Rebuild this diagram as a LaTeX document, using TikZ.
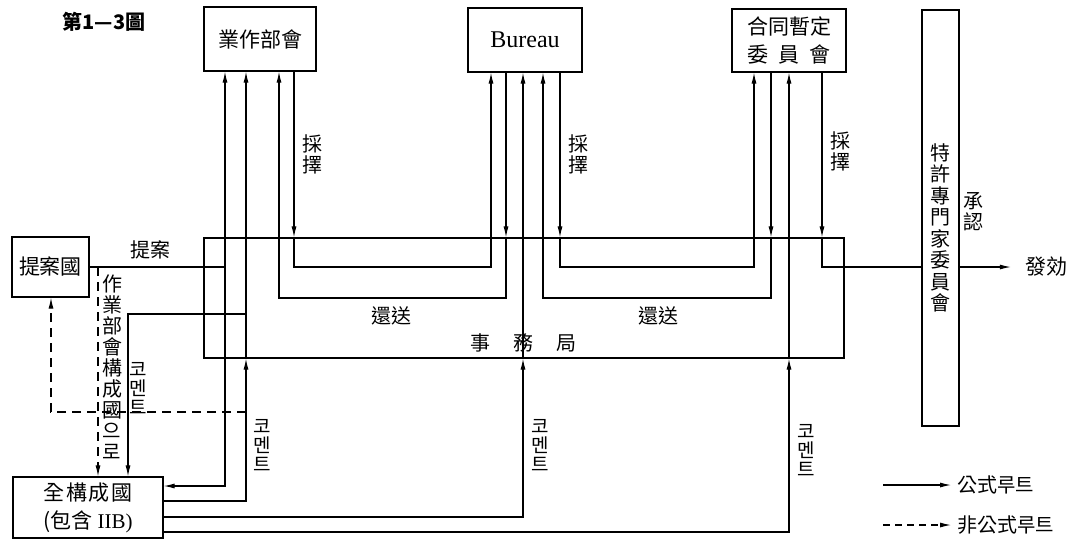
\documentclass[tikz,border=0pt]{standalone}
\usepackage{fontspec}
\setmainfont{Liberation Serif}
\newfontfamily\cjk{Noto Sans CJK TC}
\usetikzlibrary{arrows.meta}
\begin{document}
\begin{tikzpicture}[x=1pt,y=-1pt,
  box/.style={draw, line width=1.2pt, inner sep=0pt, align=center},
  ln/.style={line width=1.1pt},
  arr/.style={line width=1.1pt, -{Latex[length=11pt,width=5pt]}},
  dsh/.style={line width=1.1pt, dash pattern=on 9pt off 6pt, -{Latex[length=11pt,width=5pt]}},
  lbl/.style={inner sep=0pt, align=center, font=\cjk\fontsize{20}{21}\selectfont},
  kr/.style={inner sep=0pt, align=center, font=\cjk\fontsize{19}{19}\selectfont}]
\fill[white] (0,0) rectangle (1081,542);
\useasboundingbox (0,0) rectangle (1081,542);

% title
\node[inner sep=0pt, font=\cjk\bfseries\fontsize{20}{22}\selectfont] (title) at (104,22) {第1—3圖};

% boxes
\node[box, minimum width=112pt, minimum height=64pt, font=\cjk\fontsize{21}{23}\selectfont] (wp) at (260,39) {業作部會};
\node[box, minimum width=114pt, minimum height=64pt, font=\fontsize{24}{26}\selectfont] (bu) at (525,40) {Bureau};
\node[box, minimum width=114pt, minimum height=63pt, font=\cjk\fontsize{21}{28}\selectfont] (jc) at (789,40.5) {合同暫定\\委\hspace{10pt}員\hspace{10pt}會};
\node[box, minimum width=37pt, minimum height=416pt] (pe) at (940.5,218) {};
\node[lbl, font=\cjk\fontsize{20}{21.5}\selectfont] (petxt) at (940.5,228) {特\\許\\專\\門\\家\\委\\員\\會};
\node[box, minimum width=77pt, minimum height=60pt, font=\cjk\fontsize{21}{23}\selectfont] (pr) at (50.5,267) {提案國};
\node[box, minimum width=150pt, minimum height=61pt, font=\fontsize{21}{28}\selectfont] (all) at (88,507.5) {{\cjk 全\hspace{1.5pt}構\hspace{1.5pt}成\hspace{1.5pt}國}\\{\cjk (包含}\ IIB)};
\node[box, minimum width=640pt, minimum height=120pt] (sec) at (524,298) {};
\node[inner sep=0pt, font=\cjk\fontsize{20}{22}\selectfont] (sectxt) at (523,343) {事\hspace{23pt}務\hspace{23pt}局};

% x positions and levels
\coordinate (xa) at (225,0);
\coordinate (xb) at (246,0);
\coordinate (xc) at (279,0);
\coordinate (xd) at (294,0);
\coordinate (xe) at (491,0);
\coordinate (xf) at (506,0);
\coordinate (xg) at (523,0);
\coordinate (xh) at (543,0);
\coordinate (xi) at (560,0);
\coordinate (xj) at (754,0);
\coordinate (xk) at (771,0);
\coordinate (xl) at (789,0);
\coordinate (xm) at (822,0);
\coordinate (x51) at (51,0);
\coordinate (x98) at (98,0);
\coordinate (x128) at (128,0);
\coordinate (yad) at (0,267);
\coordinate (yret) at (0,298);
\coordinate (y314) at (0,314);
\coordinate (y412) at (0,412);
\coordinate (y486) at (0,486);
\coordinate (y501) at (0,501);
\coordinate (y517) at (0,517);
\coordinate (y532) at (0,532);

% proposal
\draw[ln] (pr.east) -- (xa |- pr.east);
\draw[arr] (xa |- pr.east) -- (wp.south -| xa);
\draw[arr] (xa |- pr.east) -- (xa |- y486) -- (all.east |- y486);
\draw[dsh] (x98 |- pr.east) -- (all.north -| x98);

% adoption WP -> Bureau
\draw[arr] (wp.south -| xd) -- (xd |- sec.north);
\draw[arr] (xd |- sec.north) -- (xd |- yad) -- (xe |- yad) -- (bu.south -| xe);
% return Bureau -> WP
\draw[arr] (bu.south -| xf) -- (xf |- sec.north);
\draw[arr] (xf |- sec.north) -- (xf |- yret) -- (xc |- yret) -- (wp.south -| xc);
% adoption Bureau -> JC
\draw[arr] (bu.south -| xi) -- (xi |- sec.north);
\draw[arr] (xi |- sec.north) -- (xi |- yad) -- (xj |- yad) -- (jc.south -| xj);
% return JC -> Bureau
\draw[arr] (jc.south -| xk) -- (xk |- sec.north);
\draw[arr] (xk |- sec.north) -- (xk |- yret) -- (xh |- yret) -- (bu.south -| xh);
% adoption JC -> PE
\draw[arr] (jc.south -| xm) -- (xm |- sec.north);
\draw[ln] (xm |- sec.north) -- (xm |- yad) -- (pe.west |- yad);
\node[inner sep=0pt, font=\cjk\fontsize{21}{23}\selectfont] (fx) at (1046,267) {發効};
\draw[arr, shorten >=14pt] (pe.east |- yad) -- (fx.west);

% comments from all members
\draw[arr] (all.east |- y501) -- (xb |- y501) -- (xb |- sec.south);
\draw[arr] (xb |- sec.south) -- (wp.south -| xb);
\draw[arr] (xb |- y314) -- (x128 |- y314) -- (all.north -| x128);
\draw[dsh] (xb |- y412) -- (x51 |- y412) -- (pr.south -| x51);
\draw[arr] (all.east |- y517) -- (xg |- y517) -- (xg |- sec.south);
\draw[arr] (xg |- sec.south) -- (bu.south -| xg);
\draw[arr] (all.east |- y532) -- (xl |- y532) -- (xl |- sec.south);
\draw[arr] (xl |- sec.south) -- (jc.south -| xl);

% labels
\node[lbl] (ad1) at (312,154) {採\\擇};
\node[lbl] (ad2) at (578,154) {採\\擇};
\node[lbl] (ad3) at (840,151) {採\\擇};
\node[lbl] (rt1) at (391,316) {還送};
\node[lbl] (rt2) at (658,316) {還送};
\node[lbl] (prl) at (150,250) {提案};
\node[lbl] (wpm) at (112,367) {作\\業\\部\\會\\構\\成\\國\\으\\로};
\node[kr] (cm0) at (138,388) {코\\멘\\트};
\node[kr] (cm1) at (262,445) {코\\멘\\트};
\node[kr] (cm2) at (540,445) {코\\멘\\트};
\node[kr] (cm3) at (806,450) {코\\멘\\트};
\node[lbl] (ap) at (973,212) {承\\認};

% legend
\node[inner sep=0pt, anchor=west, font=\cjk\fontsize{20}{22}\selectfont] (leg1) at (957,485) {公式루트};
\node[inner sep=0pt, anchor=west, font=\cjk\fontsize{20}{22}\selectfont] (leg2) at (957,525) {非公式루트};
\coordinate (l1s) at (883,485);
\coordinate (l2s) at (883,525);
\draw[arr, shorten >=6pt] (l1s) -- (leg1.west);
\draw[dsh, dash pattern=on 7pt off 5pt, shorten >=6pt] (l2s) -- (leg2.west);
\end{tikzpicture}
\end{document}
